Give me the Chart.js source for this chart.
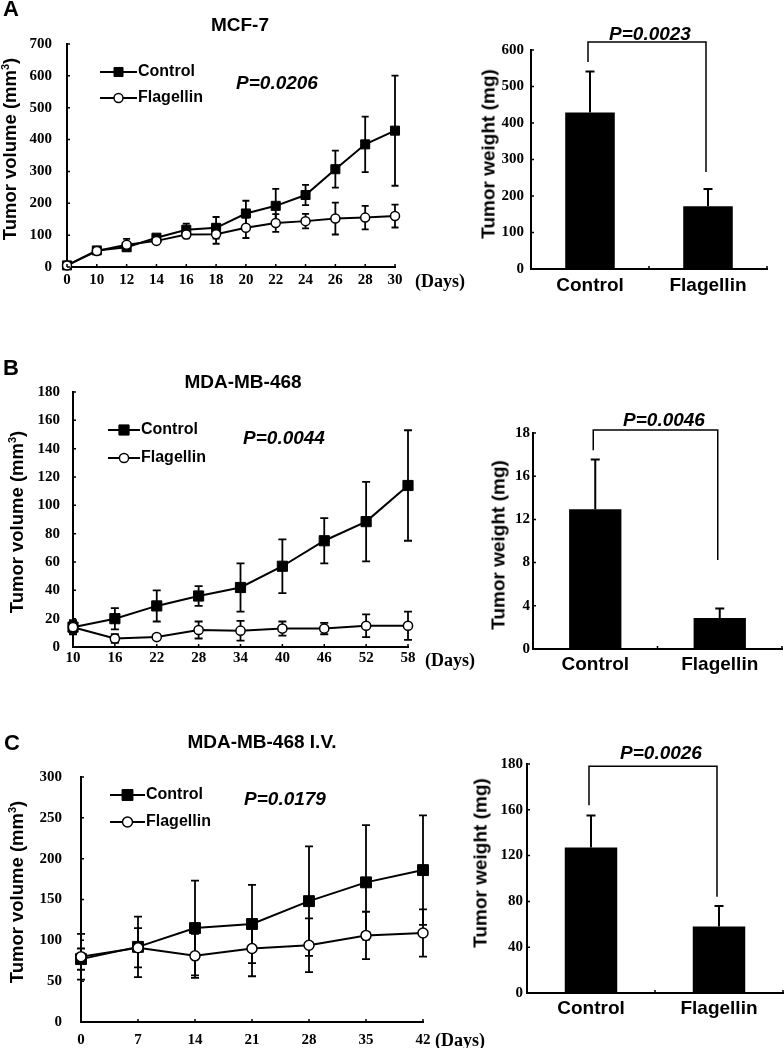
<!DOCTYPE html>
<html>
<head>
<meta charset="utf-8">
<script src="https://cdn.jsdelivr.net/npm/chart.js@4.4.0/dist/chart.umd.min.js"></script>
<style>
  body { margin: 0; background: #fff; }
  #fig { position: relative; width: 784px; height: 1048px; overflow: hidden; font-family: Arial, "Liberation Sans", sans-serif; color: #000; }
  #fig canvas { position: absolute; }
  .t { position: absolute; font-weight: bold; white-space: nowrap; line-height: 1; }
  .letter { font-size: 22px; }
  .ttl { font-size: 19px; transform: translateX(-50%); }
  .pv { font-size: 19px; font-style: italic; transform: translateX(-50%); }
  .ytl { transform: translate(-50%, -50%) rotate(-90deg); }
  .vol { font-size: 18.5px; }
  .wt { font-size: 19px; }
  .days { font-family: "Times New Roman", "Liberation Serif", serif; font-size: 18px; }
  .sup { font-size: 11px; vertical-align: 7px; }
</style>
</head>
<body>
<div id="fig">
  <canvas id="lineA"></canvas><canvas id="barA"></canvas>
  <canvas id="lineB"></canvas><canvas id="barB"></canvas>
  <canvas id="lineC"></canvas><canvas id="barC"></canvas>

  <div class="t letter" style="left:3px;top:-2px">A</div>
  <div class="t letter" style="left:3px;top:357px">B</div>
  <div class="t letter" style="left:4px;top:732px">C</div>

  <div class="t ttl" style="left:240px;top:15px">MCF-7</div>
  <div class="t ttl" style="left:243px;top:372px">MDA-MB-468</div>
  <div class="t ttl" style="left:262px;top:732px">MDA-MB-468 I.V.</div>

  <div class="t pv" style="left:277px;top:73px">P=0.0206</div>
  <div class="t pv" style="left:284px;top:428px">P=0.0044</div>
  <div class="t pv" style="left:285px;top:789px">P=0.0179</div>
  <div class="t pv" style="left:650px;top:24px">P=0.0023</div>
  <div class="t pv" style="left:664px;top:410px">P=0.0046</div>
  <div class="t pv" style="left:661px;top:743px">P=0.0026</div>

  <div class="t days" style="left:415px;top:272px">(Days)</div>
  <div class="t days" style="left:425px;top:651px">(Days)</div>
  <div class="t days" style="left:435px;top:1031px">(Days)</div>

  <div class="t ytl vol" style="left:10px;top:149px">Tumor volume (mm<span class="sup">3</span>)</div>
  <div class="t ytl vol" style="left:17px;top:522px">Tumor volume (mm<span class="sup">3</span>)</div>
  <div class="t ytl vol" style="left:17px;top:892px">Tumor volume (mm<span class="sup">3</span>)</div>
  <div class="t ytl wt" style="left:488px;top:154px">Tumor weight (mg)</div>
  <div class="t ytl wt" style="left:498px;top:545px">Tumor weight (mg)</div>
  <div class="t ytl wt" style="left:480px;top:863px">Tumor weight (mg)</div>
</div>

<script>
// ---- data ----
const groups = ['Control', 'Flagellin'];

// A: MCF-7
const daysA = ['0', '10', '12', '14', '16', '18', '20', '22', '24', '26', '28', '30'];
const ctrlA = [5, 52, 62, 92, 117, 123, 168, 192, 226, 307, 385, 428];
const ctrlErrA = [3, 8, 10, 8, 19, 34, 40, 53, 32, 58, 87, 173];
const flagA = [5, 50, 70, 82, 102, 103, 123, 138, 144, 152, 155, 160];
const flagErrA = [3, 8, 18, 10, 12, 30, 32, 28, 23, 50, 37, 36];
const yTicksA = [0, 100, 200, 300, 400, 500, 600, 700];
const yLabelsA = ['0', '100', '200', '300', '400', '500', '600', '700'];
const weightA = [429, 172];
const weightErrA = [112, 47];
const wTicksA = [0, 100, 200, 300, 400, 500, 600];
const wLabelsA = ['0', '100', '200', '300', '400', '500', '600'];
const bracketA = [622, 567, 266];

// B: MDA-MB-468
const daysB = ['10', '16', '22', '28', '34', '40', '46', '52', '58'];
const ctrlB = [14, 20, 29, 36, 42, 57, 75, 88.5, 114];
const ctrlErrB = [5, 7.5, 11, 7, 17, 19, 16, 28, 39];
const flagB = [14, 6, 7, 12, 11.5, 13, 13, 15, 15];
const flagErrB = [4, 3, 1.5, 6, 7, 5, 4, 8, 10];
const yTicksB = [0, 20, 40, 60, 80, 100, 120, 140, 160, 180];
const yLabelsB = ['0', '20', '40', '60', '80', '100', '120', '140', '160', '180'];
const weightB = [12.94, 2.88];
const weightErrB = [4.6, 0.87];
const wTicksB = [0, 4, 8, 12, 16, 20];
const wLabelsB = ['0', '4', '8', '12', '16', '18'];
const bracketB = [20.28, 18.4, 8.24];

// C: MDA-MB-468 I.V.
const daysC = ['0', '7', '14', '21', '28', '35', '42'];
const ctrlC = [77, 92, 115, 120, 148, 171, 186];
const ctrlErrC = [13, 37, 58, 48, 67, 70, 67];
const flagC = [80, 91, 81, 90, 94, 106, 109];
const flagErrC = [28, 24, 27, 34, 33, 29, 29];
const yTicksC = [0, 50, 100, 150, 200, 250, 300];
const yLabelsC = ['0', '50', '100', '150', '200', '250', '300'];
const weightC = [127, 58];
const weightErrC = [28, 18];
const wTicksC = [0, 40, 80, 120, 160, 200];
const wLabelsC = ['0', '40', '80', '120', '160', '180'];
const bracketC = [198, 164, 84];

const serif = { family: '"Times New Roman", "Liberation Serif", serif', size: 15, weight: 'bold' };
const sans = { family: 'Arial, "Liberation Sans", sans-serif', size: 19, weight: 'bold' };

// error bars: both directions for lines (under the markers), upward only for bars
function drawErrors(chart, o) {
  const ctx = chart.ctx, ys = chart.scales.y;
  ctx.save();
  ctx.strokeStyle = '#000';
  ctx.lineWidth = o.width || 2;
  chart.data.datasets.forEach((ds, di) => {
    if (!ds.errors) return;
    chart.getDatasetMeta(di).data.forEach((el, i) => {
      const v = ds.data[i], e = ds.errors[i];
      const yTop = ys.getPixelForValue(v + e);
      const yBot = ys.getPixelForValue(o.upOnly ? v : v - e);
      ctx.beginPath();
      ctx.moveTo(el.x, yTop); ctx.lineTo(el.x, yBot);
      ctx.moveTo(el.x - o.cap, yTop); ctx.lineTo(el.x + o.cap, yTop);
      if (!o.upOnly) { ctx.moveTo(el.x - o.cap, yBot); ctx.lineTo(el.x + o.cap, yBot); }
      ctx.stroke();
    });
  });
  ctx.restore();
}
const errorBars = {
  id: 'errorBars',
  beforeDatasetsDraw(chart, args, o) { if (o.cap && !o.upOnly) drawErrors(chart, o); },
  afterDatasetsDraw(chart, args, o) { if (o.cap && o.upOnly) drawErrors(chart, o); }
};

// short tick marks pointing into the plot
const inTicks = {
  id: 'inTicks',
  afterDraw(chart, args, o) {
    const ctx = chart.ctx, a = chart.chartArea, xs = chart.scales.x, ys = chart.scales.y;
    const len = o.len || 3;
    ctx.save();
    ctx.strokeStyle = '#000';
    ctx.lineWidth = 1.5;
    ctx.beginPath();
    ys.ticks.forEach((t, i) => {
      const y = ys.getPixelForTick(i);
      ctx.moveTo(a.left, y); ctx.lineTo(a.left + len, y);
    });
    let xt;
    if (xs.options.offset) {
      xt = [a.left];
      for (let i = 1; i < xs.ticks.length; i++) xt.push((xs.getPixelForTick(i - 1) + xs.getPixelForTick(i)) / 2);
      xt.push(a.right);
    } else {
      xt = xs.ticks.map((t, i) => xs.getPixelForTick(i));
    }
    xt.forEach(x => { ctx.moveTo(x, a.bottom); ctx.lineTo(x, a.bottom - len); });
    ctx.stroke();
    ctx.restore();
  }
};

// significance bracket over the two bars
const bracket = {
  id: 'bracket',
  afterDraw(chart, args, o) {
    if (!o.levels) return;
    const ctx = chart.ctx, xs = chart.scales.x, ys = chart.scales.y;
    const [top, l, r] = o.levels;
    const x1 = xs.getPixelForValue(0) - 2, x2 = xs.getPixelForValue(1) - 2;
    ctx.save();
    ctx.strokeStyle = '#000';
    ctx.lineWidth = 1.5;
    ctx.beginPath();
    ctx.moveTo(x1, ys.getPixelForValue(l));
    ctx.lineTo(x1, ys.getPixelForValue(top));
    ctx.lineTo(x2, ys.getPixelForValue(top));
    ctx.lineTo(x2, ys.getPixelForValue(r));
    ctx.stroke();
    ctx.restore();
  }
};

// line + marker key
const lineKey = {
  id: 'lineKey',
  afterDraw(chart, args, o) {
    if (!o.len) return;
    const ctx = chart.ctx, a = chart.chartArea;
    chart.data.datasets.forEach((ds, i) => {
      const x0 = a.left + o.x, y = a.top + o.y + i * o.dy;
      ctx.save();
      ctx.strokeStyle = '#000';
      ctx.lineWidth = ds.borderWidth;
      ctx.beginPath(); ctx.moveTo(x0, y); ctx.lineTo(x0 + o.len, y); ctx.stroke();
      ctx.fillStyle = ds.pointBackgroundColor;
      ctx.strokeStyle = ds.pointBorderColor;
      ctx.lineWidth = ds.pointBorderWidth;
      Chart.helpers.drawPoint(ctx, { pointStyle: ds.pointStyle, radius: ds.pointRadius, borderWidth: ds.pointBorderWidth, rotation: 0 }, x0 + o.len / 2, y);
      ctx.fillStyle = '#000';
      ctx.font = 'bold 16px Arial, "Liberation Sans", sans-serif';
      ctx.textBaseline = 'middle';
      ctx.fillText(ds.label, x0 + o.len + 1, y);
      ctx.restore();
    });
  }
};

Chart.register(errorBars, inTicks, bracket, lineKey);

function place(id, area, yW, padTop, padRight, xH) {
  const c = document.getElementById(id);
  const w = area.r - area.l + yW + padRight, h = area.b - area.t + padTop + xH;
  c.width = w; c.height = h;
  c.style.left = (area.l - yW) + 'px';
  c.style.top = (area.t - padTop) + 'px';
  c.style.width = w + 'px';
  c.style.height = h + 'px';
  return c;
}

function yScale(ticks, labels, yW, pad) {
  return {
    min: ticks[0], max: ticks[ticks.length - 1],
    afterFit: s => { s.width = yW; },
    afterBuildTicks: s => { s.ticks = ticks.map(v => ({ value: v })); },
    grid: { display: false, drawTicks: false },
    border: { color: '#000', width: 2 },
    ticks: { color: '#000', font: serif, padding: pad, autoSkip: false, callback: (v, i) => labels[i] }
  };
}

function lineChart(id, area, labels, ctrl, ctrlErr, flag, flagErr, yT, yL, cfg) {
  const yW = 60, padTop = 30, padRight = 25, xH = 30;
  const c = place(id, area, yW, padTop, padRight, xH);
  return new Chart(c, {
    type: 'line',
    data: {
      labels: labels,
      datasets: [
        { label: 'Control', data: ctrl, errors: ctrlErr, order: 1, clip: false,
          borderColor: '#000', borderWidth: 2, tension: 0,
          pointStyle: 'rect', pointRadius: cfg.sq, pointBackgroundColor: '#000', pointBorderColor: '#000', pointBorderWidth: 1 },
        { label: 'Flagellin', data: flag, errors: flagErr, order: 0, clip: false,
          borderColor: '#000', borderWidth: 2, tension: 0,
          pointStyle: 'circle', pointRadius: cfg.ci, pointBackgroundColor: '#fff', pointBorderColor: '#000', pointBorderWidth: 1.5 }
      ]
    },
    options: {
      responsive: false, animation: false, devicePixelRatio: 1,
      layout: { padding: { left: 0, top: padTop, right: padRight, bottom: 0 } },
      scales: {
        x: {
          type: 'category', offset: false,
          afterFit: s => { s.height = xH; },
          grid: { display: false, drawTicks: false },
          border: { color: '#000', width: 2 },
          ticks: { color: '#000', font: serif, padding: cfg.xPad, autoSkip: false, maxRotation: 0 }
        },
        y: yScale(yT, yL, yW, cfg.yPad)
      },
      plugins: {
        legend: { display: false }, tooltip: { enabled: false },
        errorBars: { cap: cfg.cap, width: 1.8 },
        inTicks: { len: 3 },
        lineKey: cfg.key
      }
    }
  });
}

function barChart(id, area, values, errs, yT, yL, levels, cfg) {
  const yW = 50, padTop = 30, padRight = 784 - area.r, xH = 30;
  const c = place(id, area, yW, padTop, padRight, xH);
  return new Chart(c, {
    type: 'bar',
    data: {
      labels: groups,
      datasets: [{ data: values, errors: errs, backgroundColor: '#000', borderWidth: 0,
        categoryPercentage: 1, barPercentage: cfg.bp }]
    },
    options: {
      responsive: false, animation: false, devicePixelRatio: 1,
      layout: { padding: { left: 0, top: padTop, right: padRight, bottom: 0 } },
      scales: {
        x: {
          afterFit: s => { s.height = xH; },
          grid: { display: false, drawTicks: false },
          border: { color: '#000', width: 2 },
          ticks: { color: '#000', font: sans, padding: cfg.xPad, maxRotation: 0 }
        },
        y: yScale(yT, yL, yW, cfg.yPad)
      },
      plugins: {
        legend: { display: false }, tooltip: { enabled: false },
        errorBars: { cap: 4.5, width: 2, upOnly: true },
        inTicks: { len: 3 },
        bracket: { levels: levels }
      }
    }
  });
}

lineChart('lineA', { l: 67, r: 395, t: 44, b: 267 }, daysA, ctrlA, ctrlErrA, flagA, flagErrA, yTicksA, yLabelsA,
  { sq: 6.4, ci: 4.5, cap: 3.5, xPad: 4, yPad: 15, key: { x: 33, y: 28, dy: 26, len: 37 } });
lineChart('lineB', { l: 73, r: 408, t: 392, b: 647 }, daysB, ctrlB, ctrlErrB, flagB, flagErrB, yTicksB, yLabelsB,
  { sq: 7.2, ci: 4.6, cap: 4, xPad: 2, yPad: 13, key: { x: 35, y: 38, dy: 28, len: 32 } });
lineChart('lineC', { l: 81, r: 423, t: 777, b: 1022 }, daysC, ctrlC, ctrlErrC, flagC, flagErrC, yTicksC, yLabelsC,
  { sq: 7.7, ci: 5, cap: 4, xPad: 9, yPad: 19, key: { x: 29, y: 18, dy: 27, len: 35 } });

barChart('barA', { l: 531, r: 767, t: 50, b: 269 }, weightA, weightErrA, wTicksA, wLabelsA, bracketA, { bp: 0.42, xPad: 5.5, yPad: 7 });
barChart('barB', { l: 533, r: 782, t: 433, b: 649 }, weightB, weightErrB, wTicksB, wLabelsB, bracketB, { bp: 0.42, xPad: 4.5, yPad: 3 });
barChart('barC', { l: 527, r: 783, t: 764, b: 993 }, weightC, weightErrC, wTicksC, wLabelsC, bracketC, { bp: 0.41, xPad: 4.5, yPad: 4 });
</script>
</body>
</html>
